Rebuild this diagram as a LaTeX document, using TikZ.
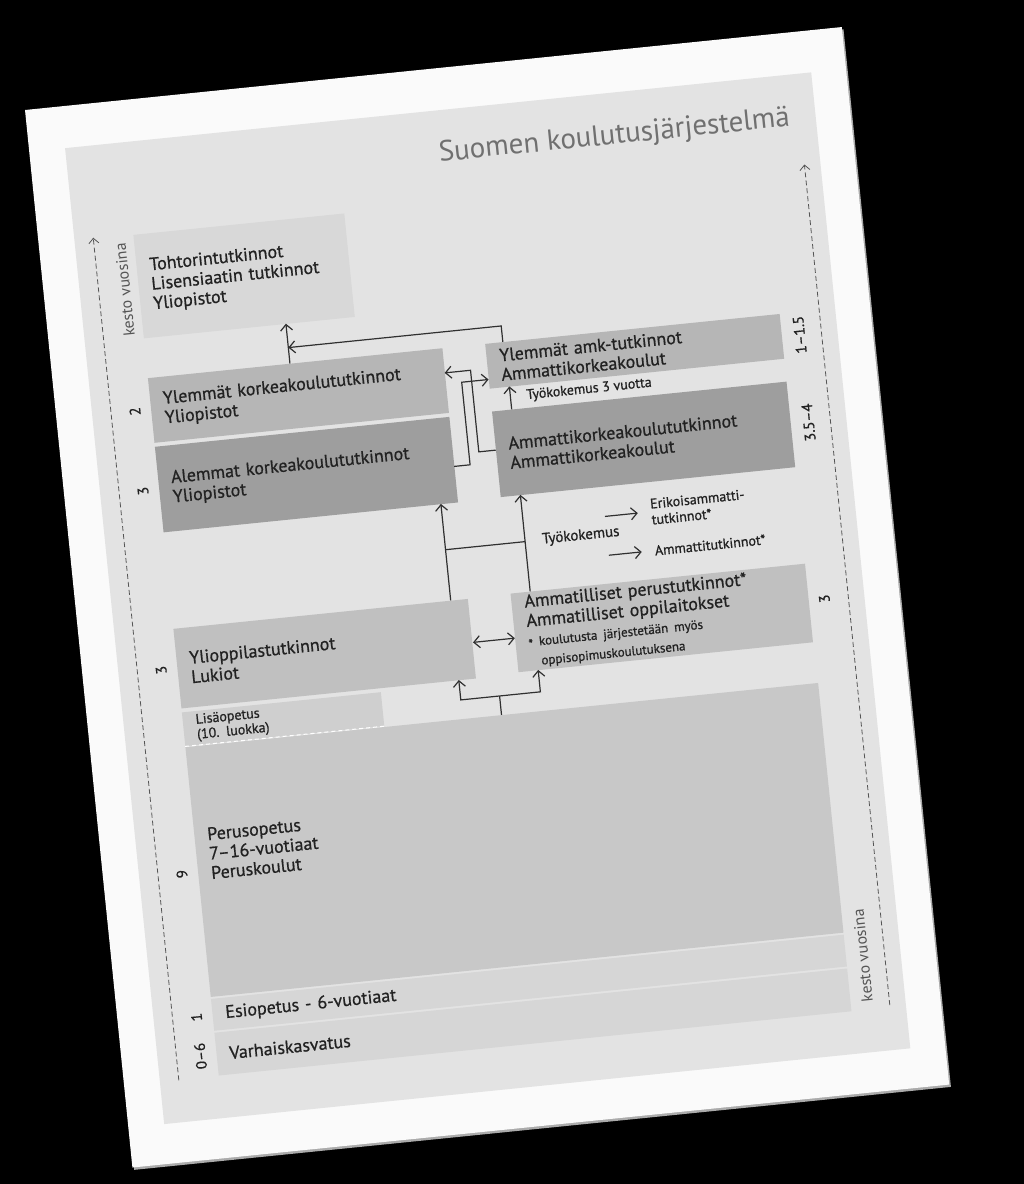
\documentclass[tikz,border=0pt]{standalone}
\usepackage{fontspec}
\setmainfont{PT Sans}
\newfontfamily\txtfont{PT Sans}[FakeBold=0.8]
\usetikzlibrary{arrows.meta}

\definecolor{pagec}{HTML}{FAFAFA}
\definecolor{shadowc}{HTML}{ABABAB}
\definecolor{bgc}{HTML}{E3E3E3}
\definecolor{lightc}{HTML}{D8D8D8}
\definecolor{midc}{HTML}{B6B6B6}
\definecolor{darkc}{HTML}{9E9E9E}
\definecolor{secc}{HTML}{C0C0C0}
\definecolor{lisac}{HTML}{CFCFCF}
\definecolor{basec}{HTML}{C8C8C8}
\definecolor{prec}{HTML}{D6D6D6}
\definecolor{txtc}{HTML}{222222}
\definecolor{titlec}{HTML}{707070}
\definecolor{linec}{HTML}{303030}
\definecolor{kestoc}{HTML}{555555}

\newcommand\fsmain{\txtfont\fontsize{18}{19.5}\selectfont}
\newcommand\fssmall{\txtfont\fontsize{14}{15}\selectfont}
\newcommand\fsamm{\txtfont\fontsize{13}{14}\selectfont}
\newcommand\fsnum{\txtfont\fontsize{15}{17}\selectfont}
\newcommand\fstitle{\fontsize{29}{33}\selectfont}

\begin{document}
\begin{tikzpicture}[x=1pt, y=-1pt,
	box/.style={anchor=north west, inner xsep=13pt, inner ysep=0pt, align=left, font=\fsmain, text=txtc},
	col/.style={box, text width=270pt, minimum height=#1},
	wide/.style={box, text width=610pt, minimum height=#1},
	lbl/.style={inner sep=0pt, text=txtc, font=\fssmall, align=left},
	num/.style={rotate=90, inner sep=0pt, text=txtc, font=\fsnum},
	conn/.style={draw=linec, line width=1.2pt},
	arr/.style={conn, -{Straight Barb[length=6pt,width=12pt]}},
	darr/.style={conn, {Straight Barb[length=6pt,width=12pt]}-{Straight Barb[length=6pt,width=12pt]}},
	kesto/.style={draw=kestoc, line width=0.8pt, dash pattern=on 5pt off 3pt, -{Straight Barb[length=5pt,width=10pt]}}]
	\fill[black] (0,0) rectangle (1024,1184);

	\begin{scope}[shift={(25,110)}, rotate=5.8, transform shape]
	%Page
	\fill[shadowc] (1.5,2.5) rectangle (822.5,1065.5);
	\fill[pagec] (0,0) rectangle (821,1063);
	\fill[bgc] (36,42) rectangle (786,1023);
	\node[font=\fstitle, text=titlec, anchor=east, inner sep=0pt] (title) at (760,86) {Suomen koulutusjärjestelmä};

	%Duration axes
	\coordinate (kl0) at (55,981);
	\coordinate (kl1) at (55,134);
	\coordinate (kr0) at (770,978);
	\coordinate (kr1) at (770,133);
	\draw[kesto] (kl0) -- (kl1);
	\draw[kesto] (kr0) -- (kr1);
	\node[num, text=kestoc, font=\fontsize{16}{18}\selectfont] (kv1) at (81,189) {kesto vuosina};
	\node[num, text=kestoc, font=\fontsize{16}{18}\selectfont] (kv2) at (748,926) {kesto vuosina};

	%Boxes
	\node[box, text width=186pt, minimum height=104pt, fill=lightc] (toht) at (95,135) {Tohtorintutkinnot\\Lisensiaatin tutkinnot\\Yliopistot};
	\node[col=65pt, fill=midc] (ylem) at (95,279) {Ylemmät korkeakoulututkinnot\\Yliopistot};
	\node[col=86pt, fill=darkc] (alem) at (95,348) {Alemmat korkeakoulututkinnot\\Yliopistot};
	\node[col=45pt, fill=midc] (yamk) at (434,279) {Ylemmät amk-tutkinnot\\Ammattikorkeakoulut};
	\node[col=86pt, fill=darkc] (amk) at (434,347) {Ammattikorkeakoulututkinnot\\Ammattikorkeakoulut};
	\node[col=80pt, fill=secc] (lukio) at (95,531) {Ylioppilastutkinnot\\Lukiot};
	\node[col=79pt, fill=secc] (ammat) at (434,530) {Ammatilliset perustutkinnot*\\Ammatilliset oppilaitokset\\{\fsamm\raisebox{-0.35ex}{*} koulutusta järjestetään myös}\\{\fsamm\hspace*{11pt}oppisopimuskoulutuksena}};
	\node[box, text width=174pt, minimum height=34pt, fill=lisac, font=\fssmall] (lisa) at (95,615) {Lisäopetus\\(10. luokka)};
	\node[wide=251pt, fill=basec, text depth=74pt] (perus) at (95,650) {Perusopetus\\7–16-vuotiaat\\Peruskoulut};
	\node[wide=32pt, fill=prec] (esi) at (95,903) {Esiopetus - 6-vuotiaat};
	\node[wide=43pt, fill=prec] (varh) at (95,937) {Varhaiskasvatus};
	\draw[white, line width=1pt, dash pattern=on 4pt off 3pt] (lisa.south west) -- (lisa.south east);

	%Years
	\node[num] (n2) at (79,311) {2};
	\node[num] (n3a) at (79,391) {3};
	\node[num] (n3b) at (79,571) {3};
	\node[num] (n9) at (79,776) {9};
	\node[num] (n1) at (79,920) {1};
	\node[num] (n06) at (79,959) {0–6};
	\node[num] (n115) at (748,302) {1–1.5};
	\node[num] (n354) at (748,390) {3.5–4};
	\node[num] (n3c) at (746,567) {3};

	%Paths between the levels
	\coordinate (yl-n) at (238,279);
	\coordinate (to-s) at (238,239);
	\coordinate (ya-n) at (452,279);
	\coordinate (ya-b) at (452,263);
	\coordinate (jt) at (238,263);
	\draw[arr] (yl-n) -- (to-s);
	\draw[arr] (ya-n) -- (ya-b) -- (jt);

	\coordinate (yl-e) at (391,304);
	\coordinate (ka1) at (417,304);
	\coordinate (ka2) at (417,386);
	\coordinate (am-w) at (434,386);
	\draw[arr] (am-w) -- (ka2) -- (ka1) -- (yl-e);
	\coordinate (al-e) at (391,398);
	\coordinate (kb1) at (407,398);
	\coordinate (kb2) at (407,315);
	\coordinate (ya-w) at (434,315);
	\draw[arr] (al-e) -- (kb1) -- (kb2) -- (ya-w);

	\coordinate (am-n) at (454,347);
	\coordinate (ya-s) at (454,324);
	\draw[arr] (am-n) -- (ya-s);
	\node[lbl, anchor=west] (tk3) at (470,335) {Työkokemus 3 vuotta};

	\coordinate (lu-n) at (374,531);
	\coordinate (al-s) at (374,434);
	\coordinate (amm-n) at (454,530);
	\coordinate (amk-s) at (454,433);
	\coordinate (c1) at (374,480);
	\coordinate (c2) at (454,480);
	\draw[arr] (lu-n) -- (al-s);
	\draw[arr] (amm-n) -- (amk-s);
	\draw[conn] (c1) -- (c2);

	\node[lbl, anchor=west, font=\txtfont\fontsize{15}{16}\selectfont] (tyo) at (471,480) {Työkokemus};
	\node[lbl, anchor=west, inner xsep=13pt] (erik) at (569,463) {Erikoisammatti-\\[1pt]tutkinnot*};
	\node[lbl, anchor=west, inner xsep=13pt] (ammt) at (569,502) {Ammattitutkinnot*};
	\coordinate (tk-a) at (536,463);
	\coordinate (tk-b) at (536,502);
	\draw[arr] (tk-a) -- (erik.west);
	\draw[arr] (tk-b) -- (ammt.west);

	\coordinate (lu-e) at (392,575);
	\coordinate (amm-w) at (434,575);
	\draw[darr] (lu-e) -- (amm-w);

	\coordinate (pe-n) at (413,650);
	\coordinate (f0) at (413,631);
	\coordinate (f1) at (374,631);
	\coordinate (f2) at (454,631);
	\coordinate (lu-s) at (374,611);
	\coordinate (amm-s) at (454,609);
	\draw[conn] (pe-n) -- (f0);
	\draw[arr] (f0) -- (f1) -- (lu-s);
	\draw[arr] (f0) -- (f2) -- (amm-s);
	\end{scope}
\end{tikzpicture}
\end{document}
